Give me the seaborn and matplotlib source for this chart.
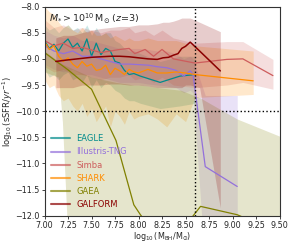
import numpy as np
import matplotlib
matplotlib.use("Agg")
import matplotlib.pyplot as plt
import seaborn as sns

# ---------------- data ----------------
eagle_x = [7.00,7.05,7.10,7.15,7.20,7.25,7.30,7.35,7.40,7.45,7.50,7.55,7.60,7.65,7.70,7.75,7.80,7.85,7.90,7.95,8.02,8.23,8.44,8.60]
eagle_y = [-8.65,-8.80,-8.72,-8.85,-8.70,-8.62,-8.78,-8.70,-8.85,-8.62,-8.95,-8.70,-8.92,-8.80,-8.85,-9.05,-9.08,-9.22,-9.30,-9.28,-9.33,-9.45,-9.33,-9.30]
eagle_hi = [-8.35,-8.45,-8.40,-8.50,-8.40,-8.35,-8.45,-8.40,-8.50,-8.35,-8.55,-8.40,-8.55,-8.50,-8.50,-8.65,-8.70,-8.80,-8.85,-8.85,-8.90,-9.05,-8.95,-8.95]
eagle_lo = [-9.20,-9.35,-9.30,-9.40,-9.30,-9.25,-9.40,-9.35,-9.45,-9.30,-9.55,-9.40,-9.55,-9.45,-9.50,-9.60,-9.65,-9.75,-9.80,-9.80,-9.85,-9.95,-9.90,-9.85]

tng_x = [7.00,7.10,7.20,7.30,7.40,7.50,7.60,7.70,7.80,7.90,8.00,8.10,8.20,8.30,8.40,8.48,8.55,8.58,8.71,9.05]
tng_y = [-8.75,-8.85,-8.90,-8.85,-8.95,-8.95,-9.00,-9.05,-9.10,-9.10,-9.11,-9.12,-9.15,-9.17,-9.22,-9.33,-9.23,-9.30,-11.06,-11.44]
tng_hi = [-8.45,-8.55,-8.60,-8.55,-8.65,-8.65,-8.70,-8.75,-8.80,-8.80,-8.80,-8.82,-8.85,-8.85,-8.90,-9.00,-8.95,-9.00,-9.70,-9.70]
tng_lo = [-9.10,-9.20,-9.25,-9.20,-9.30,-9.30,-9.35,-9.40,-9.45,-9.45,-9.45,-9.48,-9.50,-9.52,-9.55,-9.65,-9.60,-9.65,-13.0,-13.0]

simba_x = [7.00,7.10,7.20,7.30,7.40,7.50,7.60,7.70,7.80,7.90,7.96,8.07,8.16,8.25,8.37,8.60,8.94,9.11,9.43]
simba_y = [-8.65,-8.75,-8.70,-8.80,-8.78,-8.83,-8.88,-8.85,-8.82,-8.80,-8.90,-8.82,-8.95,-8.82,-9.00,-9.08,-9.01,-9.00,-9.32]
simba_hi = [-8.25,-8.40,-8.35,-8.45,-8.40,-8.45,-8.50,-8.45,-8.45,-8.40,-8.50,-8.45,-8.55,-8.45,-8.60,-8.70,-8.67,-8.67,-9.01]
simba_lo = [-9.15,-9.25,-9.20,-9.30,-9.30,-9.35,-9.40,-9.35,-9.35,-9.30,-9.40,-9.35,-9.45,-9.35,-9.50,-9.55,-9.50,-9.45,-9.58]

shark_x = [7.00,7.05,7.10,7.15,7.20,7.25,7.30,7.35,7.40,7.45,7.50,7.55,7.60,7.65,7.70,7.75,7.80,7.85,7.90,7.95,8.00,8.10,8.20,8.30,8.40,8.50,8.60,9.22]
shark_y = [-8.67,-8.82,-8.75,-8.95,-9.05,-8.98,-9.10,-9.17,-9.05,-9.14,-9.10,-9.22,-9.20,-9.12,-9.30,-9.18,-9.23,-9.30,-9.20,-9.25,-9.27,-9.20,-9.27,-9.27,-9.25,-9.27,-9.30,-9.42]
shark_hi = [-8.00,-8.10,-8.15,-8.30,-8.40,-8.35,-8.45,-8.50,-8.40,-8.50,-8.45,-8.55,-8.55,-8.50,-8.60,-8.55,-8.60,-8.65,-8.60,-8.65,-8.65,-8.60,-8.65,-8.65,-8.65,-8.70,-8.75,-8.85]
shark_lo = [-9.40,-9.55,-9.50,-9.70,-9.80,-9.75,-9.90,-10.00,-9.85,-10.10,-9.95,-10.20,-10.05,-9.90,-10.30,-10.00,-10.10,-10.25,-10.00,-10.15,-10.10,-10.05,-10.15,-10.30,-10.05,-10.20,-9.74,-9.68]

gaea_x = [7.00,7.15,7.19,7.25,7.50,7.76,7.95,8.02,8.20,8.45,8.66,9.05,9.60]
gaea_y = [-8.88,-9.08,-9.13,-9.21,-9.58,-10.56,-11.79,-11.98,-12.40,-12.30,-11.82,-11.98,-12.40]
gaea_hi = [-8.85,-9.05,-9.10,-9.15,-9.35,-9.45,-9.50,-9.50,-9.55,-9.60,-9.75,-10.15,-10.55]
gaea_lo = [-9.25,-9.35,-10.20,-12.50,-13.0,-13.0,-13.0,-13.0,-13.0,-13.0,-13.0,-13.0,-13.0]

galform_x = [7.12,7.20,7.30,7.40,7.50,7.60,7.70,7.80,7.90,8.00,8.10,8.20,8.26,8.32,8.37,8.42,8.46,8.50,8.55,8.65,8.87]
galform_y = [-9.05,-9.03,-9.01,-8.99,-8.97,-8.96,-8.95,-8.95,-8.96,-8.98,-9.00,-9.01,-8.98,-8.97,-8.93,-8.90,-8.80,-8.76,-8.68,-8.85,-9.23]
galform_hi = [-8.60,-8.55,-8.55,-8.50,-8.45,-8.42,-8.40,-8.38,-8.38,-8.35,-8.35,-8.33,-8.30,-8.30,-8.28,-8.25,-8.22,-8.22,-8.22,-8.30,-8.48]
galform_lo = [-9.55,-9.55,-9.55,-9.50,-9.50,-9.50,-9.48,-9.48,-9.50,-9.50,-9.52,-9.55,-9.55,-9.55,-9.55,-9.55,-9.55,-9.50,-9.50,-9.55,-11.85]

series = [
    ("EAGLE", "darkcyan", eagle_x, eagle_y, eagle_lo, eagle_hi),
    ("Illustris-TNG", "mediumpurple", tng_x, tng_y, tng_lo, tng_hi),
    ("Simba", "indianred", simba_x, simba_y, simba_lo, simba_hi),
    ("SHARK", "darkorange", shark_x, shark_y, shark_lo, shark_hi),
    ("GAEA", "olive", gaea_x, gaea_y, gaea_lo, gaea_hi),
    ("GALFORM", "darkred", galform_x, galform_y, galform_lo, galform_hi),
]

# ---------------- plot ----------------
sns.set_style("ticks")
plt.rcParams['font.family'] = ['DejaVu Sans']
plt.rcParams['mathtext.fontset'] = 'dejavusans'
fig, ax = plt.subplots(figsize=(2.93, 2.43), dpi=100)
fig.subplots_adjust(left=0.152, right=0.954, bottom=0.112, top=0.973)

for name, col, x, y, lo, hi in series:
    ax.fill_between(x, lo, hi, color=col, alpha=0.2, lw=0)
for name, col, x, y, lo, hi in series:
    lw = 1.1 if name == "GALFORM" else 0.9
    sns.lineplot(x=x, y=y, color=col, lw=lw, ax=ax, label=name, sort=False,
                 estimator=None)

ax.axvline(8.6, color="k", ls=":", lw=1.0)
ax.axhline(-10.0, color="k", ls=":", lw=1.0)

ax.set_xlim(7.0, 9.5)
ax.set_ylim(-12.0, -8.0)
ax.set_xticks(np.arange(7.0, 9.51, 0.25))
ax.set_xticklabels([f"{v:.2f}" for v in np.arange(7.0, 9.51, 0.25)])
ax.set_yticks(np.arange(-12.0, -7.99, 0.5))
ax.tick_params(labelsize=5.8, length=2.5, width=0.6, pad=1.0)
for s in ax.spines.values():
    s.set_linewidth(0.8)
    s.set_color("0.2")

ax.set_xlabel(r"$\log_{10}(\mathrm{M_{BH}/M_{\odot}})$", fontsize=5.8, labelpad=0)
ax.set_ylabel(r"$\log_{10}(\mathrm{sSFR}/yr^{-1})$", fontsize=6.0, labelpad=0.5)

ax.text(0.02, 0.975, r"$M_{*} > 10^{10}\,\mathrm{M_{\odot}}$ ($z$=3)", transform=ax.transAxes,
        ha="left", va="top", fontsize=6.8)

leg = ax.legend(loc="lower left", frameon=False, fontsize=6, handlelength=2.2,
                handletextpad=0.8, borderaxespad=0.4, labelspacing=0.5)
for txt, (name, col, *_rest) in zip(leg.get_texts(), series):
    txt.set_color(col)
for h in leg.get_lines():
    h.set_linewidth(1.5)
    h.set_alpha(0.7)

fig.savefig("out.png", dpi=100)
